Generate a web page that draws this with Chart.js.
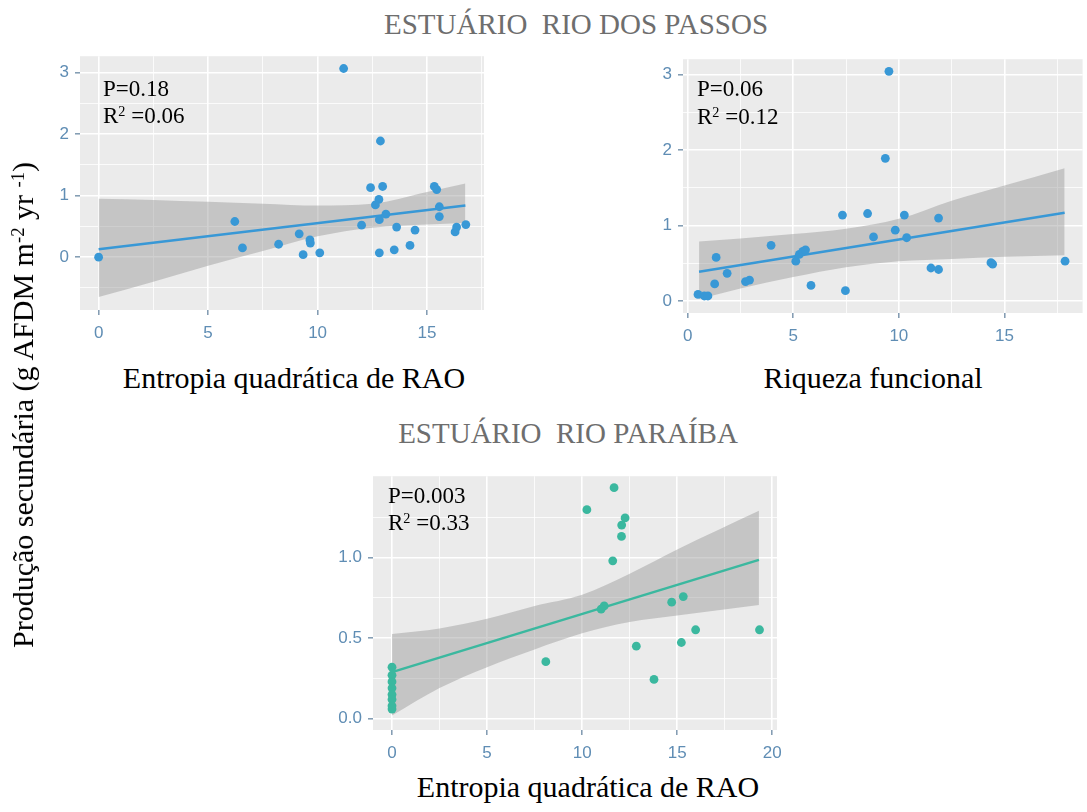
<!DOCTYPE html>
<html>
<head>
<meta charset="utf-8">
<script src="https://cdn.jsdelivr.net/npm/chart.js"></script>
<style>
  body { margin: 0; background: #fff; width: 1087px; height: 812px; position: relative; overflow: hidden; font-family: 'Liberation Serif', 'Times New Roman', serif; }
  canvas { position: absolute; }
  .txt { position: absolute; white-space: nowrap; line-height: 1; z-index: 2; }
  .title { font-size: 29px; color: #6e6e6e; transform: translateX(-50%); }
  .axis { font-size: 30px; color: #000; transform: translateX(-50%); }
  .note { font-size: 23px; color: #000; }
  sup { font-size: 0.62em; vertical-align: 0.5em; line-height: 0; }
</style>
</head>
<body>

<div class="txt title" style="left:576px; top:10px;">ESTUÁRIO&nbsp; RIO DOS PASSOS</div>
<div class="txt title" style="left:568px; top:419px;">ESTUÁRIO&nbsp; RIO PARAÍBA</div>

<div class="txt axis" style="left:294px; top:363px;">Entropia quadrática de RAO</div>
<div class="txt axis" style="left:873px; top:363px;">Riqueza funcional</div>
<div class="txt axis" style="left:588px; top:772px;">Entropia quadrática de RAO</div>

<div class="txt" style="left:23px; top:405px; font-size:30px; transform: translate(-50%,-50%) rotate(-90deg);">Produção secundária (g AFDM m<sup>-2</sup> yr <sup>-1</sup>)</div>

<div class="txt note" style="left:103px; top:77px;">P=0.18</div>
<div class="txt note" style="left:103px; top:104px;">R<sup>2</sup> =0.06</div>
<div class="txt note" style="left:697px; top:77px;">P=0.06</div>
<div class="txt note" style="left:697px; top:105px;">R<sup>2</sup> =0.12</div>
<div class="txt note" style="left:388px; top:484px;">P=0.003</div>
<div class="txt note" style="left:388px; top:511px;">R<sup>2</sup> =0.33</div>

<canvas id="c1" width="468" height="310" style="left:30px; top:40px;"></canvas>
<canvas id="c2" width="454" height="310" style="left:633px; top:43px;"></canvas>
<canvas id="c3" width="478" height="310" style="left:313px; top:460px;"></canvas>

<script>
// Estuário Rio dos Passos - Entropia quadrática de RAO
const rao1X = [0, 11.19, 6.22, 6.57, 8.22, 9.16, 9.65, 9.67, 9.34, 10.1, 12.01, 12.42, 12.87, 12.97, 12.8,
  12.64, 13.12, 12.82, 12.82, 13.61, 13.5, 14.22, 14.45, 15.33, 15.44, 15.56, 15.56, 16.28, 16.35, 16.77];
const prod1Y = [0.0, 3.07, 0.58, 0.15, 0.21, 0.38, 0.28, 0.23, 0.04, 0.07, 0.52, 1.13, 1.89, 1.15, 0.94,
  0.85, 0.70, 0.61, 0.07, 0.49, 0.12, 0.19, 0.44, 1.15, 1.10, 0.82, 0.66, 0.41, 0.49, 0.53];
const fit1X = [0, 16.75];
const fit1Y = [0.13, 0.84];
const band1X = [0, 2.5, 5, 7.5, 10, 12.5, 15, 16.75];
const band1Hi = [0.95, 0.93, 0.90, 0.87, 0.84, 0.87, 1.06, 1.20];
const band1Lo = [-0.65, -0.40, -0.14, 0.10, 0.34, 0.48, 0.53, 0.56];

// Estuário Rio dos Passos - Riqueza funcional
const riq2X = [9.53, 9.36, 7.33, 8.52, 10.26, 11.88, 9.83, 8.8, 10.37, 3.95, 1.35, 1.87, 1.28, 2.74, 2.93,
  0.49, 0.79, 0.96, 5.12, 5.29, 5.45, 5.58, 5.84, 7.47, 11.52, 11.88, 14.36, 14.44, 17.87];
const prod2Y = [3.04, 1.89, 1.14, 1.16, 1.14, 1.10, 0.94, 0.85, 0.84, 0.74, 0.58, 0.37, 0.23, 0.26, 0.28,
  0.09, 0.07, 0.07, 0.53, 0.62, 0.66, 0.68, 0.21, 0.14, 0.44, 0.42, 0.51, 0.49, 0.53];
const fit2X = [0.54, 17.85];
const fit2Y = [0.39, 1.17];
const band2X = [0.54, 2.5, 5, 7.5, 10, 12.5, 15, 17.85];
const band2Hi = [0.79, 0.83, 0.89, 0.96, 1.09, 1.33, 1.53, 1.76];
const band2Lo = [0.03, 0.17, 0.32, 0.45, 0.53, 0.56, 0.59, 0.61];

// Estuário Rio Paraíba - Entropia quadrática de RAO
const rao3X = [0, 0, 0, 0, 0, 0, 0, 0, 11.68, 10.25, 12.26, 12.08, 12.07, 11.61, 14.71, 15.32,
  15.97, 19.33, 12.85, 15.22, 8.09, 13.78, 11.16, 11.0];
const prod3Y = [0.32, 0.27, 0.23, 0.19, 0.15, 0.12, 0.08, 0.06, 1.434, 1.297, 1.246, 1.202, 1.131, 0.98,
  0.723, 0.758, 0.552, 0.552, 0.45, 0.473, 0.354, 0.244, 0.70, 0.68];
const fit3X = [0, 19.3];
const fit3Y = [0.289, 0.986];
const band3X = [0, 2.5, 5, 7.5, 10, 12.5, 15, 19.3];
const band3Hi = [0.525, 0.56, 0.62, 0.70, 0.77, 0.90, 1.05, 1.29];
const band3Lo = [0.02, 0.19, 0.32, 0.43, 0.53, 0.60, 0.64, 0.705];

// tick values (major labelled, minor only gridlines)
const xMajorA = [0, 5, 10, 15];
const xMinorA = [2.5, 7.5, 12.5, 17.5];
const yMajorA = [0, 1, 2, 3];
const yMinorA = [-0.5, 0.5, 1.5, 2.5];
const xMajorB = [0, 5, 10, 15, 20];
const xMinorB = [2.5, 7.5, 12.5, 17.5];
const yMajorB = [0, 0.5, 1.0];
const yMinorB = [0.25, 0.75, 1.25];

const blue = '#3898d6';
const teal = '#3bb89f';
const tickText = '#5f8db4';
const tickMark = '#7f99b0';

const panelBg = {
  id: 'panelBg',
  beforeDraw(chart) {
    const a = chart.chartArea;
    const ctx = chart.ctx;
    ctx.save();
    ctx.fillStyle = '#ebebeb';
    ctx.fillRect(a.left, a.top, a.right - a.left, a.bottom - a.top);
    ctx.restore();
  }
};

const pts = (xs, ys) => xs.map((x, i) => ({ x: x, y: ys[i] }));

function axis(min, max, major, minor, fmt, isX, size) {
  const isMajor = v => major.some(m => Math.abs(m - v) < 1e-9);
  return {
    type: 'linear',
    position: isX ? 'bottom' : 'left',
    min: min,
    max: max,
    afterBuildTicks: s => { s.ticks = major.concat(minor).sort((a, b) => a - b).map(v => ({ value: v })); },
    afterFit: s => { if (isX) s.height = size; else s.width = size; },
    border: { display: false },
    grid: {
      color: '#ffffff',
      lineWidth: c => isMajor(c.tick.value) ? 1.6 : 0.8,
      tickColor: c => isMajor(c.tick.value) ? tickMark : 'rgba(0,0,0,0)',
      tickLength: 5,
      tickWidth: 1.5
    },
    ticks: {
      autoSkip: false,
      maxRotation: 0,
      padding: isX ? 8 : 6,
      color: tickText,
      font: { family: 'Liberation Sans, Arial, sans-serif', size: 17 },
      callback: v => isMajor(v) ? fmt(v) : ''
    }
  };
}

function panel(id, d) {
  return new Chart(document.getElementById(id), {
    type: 'scatter',
    data: {
      datasets: [
        { data: pts(d.x, d.y), backgroundColor: d.color, borderWidth: 0, pointRadius: 4.4, order: 0 },
        { type: 'line', data: pts(d.fitX, d.fitY), borderColor: d.color, borderWidth: 2.5, pointRadius: 0, fill: false, order: 1 },
        { type: 'line', data: pts(d.bandX, d.bandHi), borderWidth: 0, borderColor: 'rgba(0,0,0,0)', pointRadius: 0,
          tension: 0.4, cubicInterpolationMode: 'monotone', fill: false, order: 3 },
        { type: 'line', data: pts(d.bandX, d.bandLo), borderWidth: 0, borderColor: 'rgba(0,0,0,0)', pointRadius: 0,
          tension: 0.4, cubicInterpolationMode: 'monotone', fill: '-1', backgroundColor: 'rgba(150,150,150,0.45)', order: 2 }
      ]
    },
    options: {
      responsive: false,
      animation: false,
      layout: { padding: { top: 10, right: d.padRight, left: 0, bottom: 0 } },
      plugins: { legend: { display: false }, tooltip: { enabled: false } },
      scales: {
        x: axis(d.xMin, d.xMax, d.xMajor, d.xMinor, v => String(v), true, 40),
        y: axis(d.yMin, d.yMax, d.yMajor, d.yMinor, d.yFmt, false, d.yW)
      }
    },
    plugins: [panelBg]
  });
}

panel('c1', {
  x: rao1X, y: prod1Y, fitX: fit1X, fitY: fit1Y, bandX: band1X, bandHi: band1Hi, bandLo: band1Lo, color: blue,
  xMin: -0.85, xMax: 17.6, yMin: -0.86, yMax: 3.27, xMajor: xMajorA, xMinor: xMinorA, yMajor: yMajorA, yMinor: yMinorA,
  yFmt: v => String(v), yW: 50, padRight: 14
});

panel('c2', {
  x: riq2X, y: prod2Y, fitX: fit2X, fitY: fit2Y, bandX: band2X, bandHi: band2Hi, bandLo: band2Lo, color: blue,
  xMin: -0.22, xMax: 18.7, yMin: -0.155, yMax: 3.2, xMajor: xMajorA, xMinor: xMinorA, yMajor: yMajorA, yMinor: yMinorA,
  yFmt: v => String(v), yW: 50, padRight: 4
});

panel('c3', {
  x: rao3X, y: prod3Y, fitX: fit3X, fitY: fit3Y, bandX: band3X, bandHi: band3Hi, bandLo: band3Lo, color: teal,
  xMin: -1.0, xMax: 20.25, yMin: -0.07, yMax: 1.505, xMajor: xMajorB, xMinor: xMinorB, yMajor: yMajorB, yMinor: yMinorB,
  yFmt: v => v.toFixed(1), yW: 60, padRight: 14
});
</script>
</body>
</html>
